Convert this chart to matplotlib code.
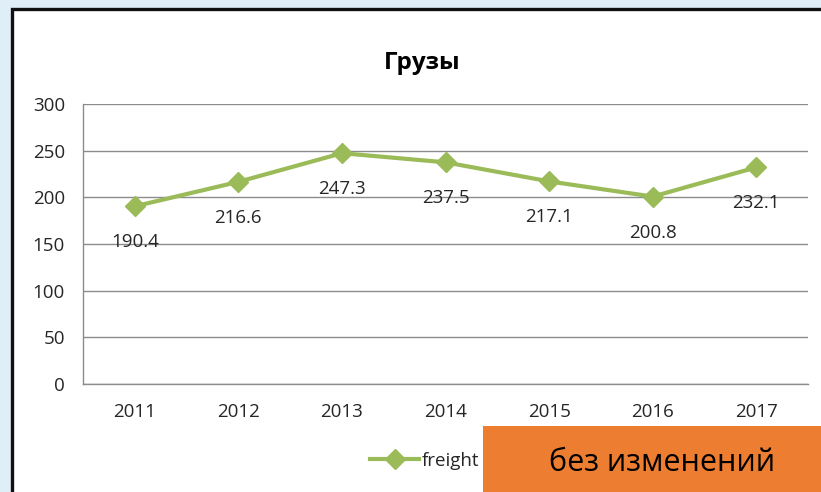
import matplotlib.pyplot as plt
from matplotlib.patches import Rectangle

# data ------------------------------
years = ["2011", "2012", "2013", "2014", "2015", "2016", "2017"]
freight = [190.4, 216.6, 247.3, 237.5, 217.1, 200.8, 232.1]
y_ticks = [0, 50, 100, 150, 200, 250, 300]
title = "Грузы"
series_name = "freight"
note = "без изменений"

W, H = 821, 492
green = "#9BBB59"
grey = "#8C8C8C"
text_col = "#262626"

plt.rcParams['font.family'] = ['Open Sans', 'DejaVu Sans']

fig = plt.figure(figsize=(W / 100, H / 100), dpi=100, facecolor="#DFEEF7")

# white chart frame with dark border
frame = Rectangle((12 / W, -0.1), 1.2, 1 - 9 / H + 0.1, transform=fig.transFigure,
                  facecolor="white", edgecolor="#111111", linewidth=2.4, zorder=0)
fig.add_artist(frame)

ax = fig.add_axes([83 / W, 1 - 384 / H, (808 - 83) / W, (384 - 104) / H])
ax.set_facecolor("none")

x = list(range(len(years)))
line, = ax.plot(x, freight, color=green, linewidth=3, marker="D", markersize=10,
                label=series_name, zorder=3, clip_on=False)

# data labels below the points
for xi, v in zip(x, freight):
    ax.annotate(f"{v:.1f}", (xi, v), xytext=(0, -26), textcoords="offset points",
                ha="center", va="center", fontsize=13.5, color=text_col)

ax.set_xlim(-0.5, len(years) - 0.5)
ax.set_ylim(0, 300)
ax.set_yticks(y_ticks)
ax.set_xticks(x)
ax.set_xticklabels(years)
ax.yaxis.grid(True, color=grey, linewidth=1)
ax.set_axisbelow(True)
ax.tick_params(length=0, labelsize=13.5, labelcolor=text_col)
ax.tick_params(axis="x", pad=14)
ax.tick_params(axis="y", pad=13)
for s in ["top", "right"]:
    ax.spines[s].set_visible(False)
for s in ["left", "bottom"]:
    ax.spines[s].set_color(grey)
    ax.spines[s].set_linewidth(1)

fig.text(422 / W, 1 - 63 / H, title, ha="center", va="center", fontsize=17.5, fontweight="bold",
         color="black")

fig.legend(handles=[line], loc="center", bbox_to_anchor=(425 / W, 1 - 461 / H),
           frameon=False, fontsize=13.5, handlelength=2.6, handletextpad=0.15,
           labelcolor=text_col)

# orange note box
box = Rectangle((483 / W, 0), (W - 483) / W, 66 / H, transform=fig.transFigure,
                facecolor="#ED7D31", edgecolor="none", zorder=5)
fig.add_artist(box)
fig.text(662 / W, 1 - 463 / H, note, ha="center", va="center", fontsize=22, color="black",
         zorder=6)

fig.savefig("out.png", dpi=100, facecolor=fig.get_facecolor())
